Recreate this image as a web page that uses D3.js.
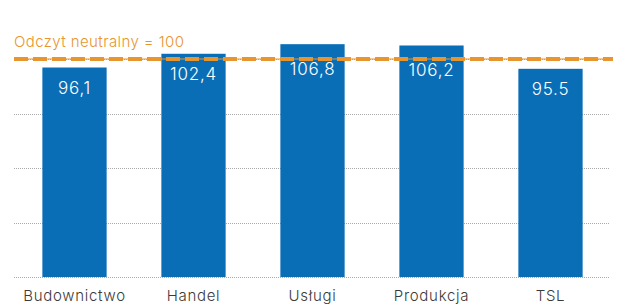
<!DOCTYPE html>
<html>
<head>
<meta charset="utf-8">
<script src="https://cdn.jsdelivr.net/npm/d3@7"></script>
<style>
  body { margin: 0; background: #fff; }
  svg text { font-family: Inter, Lato, sans-serif; font-weight: 300; }
</style>
</head>
<body>
<div id="chart"></div>
<script>
// data
const categories = ["Budownictwo", "Handel", "Usługi", "Produkcja", "TSL"];
const values = [96.1, 102.4, 106.8, 106.2, 95.5];
const valueLabels = ["96,1", "102,4", "106,8", "106,2", "95.5"];
const gridTicks = [0, 25, 50, 75, 100];
const neutral = 100;
const neutralLabel = "Odczyt neutralny = 100";

const width = 620, height = 304;

const svg = d3.select("#chart").append("svg")
  .attr("width", width)
  .attr("height", height);

const x = d3.scaleBand()
  .domain(categories)
  .range([15, 610])
  .paddingInner(0.46)
  .paddingOuter(0.23);

const y = d3.scaleLinear()
  .domain([0, 100])
  .range([277, 59]);

// dotted gridlines
svg.selectAll(".grid")
  .data(gridTicks)
  .enter().append("line")
  .attr("x1", 14).attr("x2", 610)
  .attr("y1", d => Math.round(y(d)) + 0.5)
  .attr("y2", d => Math.round(y(d)) + 0.5)
  .attr("stroke", "#aaa")
  .attr("stroke-width", 1)
  .attr("stroke-dasharray", "1,1");

const data = categories.map((c, i) => ({ cat: c, value: values[i], label: valueLabels[i] }));

svg.selectAll(".bar")
  .data(data)
  .enter().append("rect")
  .attr("x", d => x(d.cat))
  .attr("width", x.bandwidth())
  .attr("y", d => y(d.value))
  .attr("height", d => y(0) - y(d.value))
  .attr("fill", "#0A6EB6");

// neutral line: thin line under thick dashes
svg.append("line")
  .attr("x1", 14).attr("x2", 613)
  .attr("y1", y(neutral)).attr("y2", y(neutral))
  .attr("stroke", "#E8952F")
  .attr("stroke-width", 1.2);
svg.append("line")
  .attr("x1", 14).attr("x2", 613)
  .attr("y1", y(neutral)).attr("y2", y(neutral))
  .attr("stroke", "#E8952F")
  .attr("stroke-width", 4)
  .attr("stroke-dasharray", "14,5");

svg.append("text")
  .attr("x", 14).attr("y", 47)
  .attr("fill", "#E8952F")
  .style("font-size", "15px")
  .style("letter-spacing", "0.4px")
  .text(neutralLabel);

// labels on tall bars sit a bit lower, below the neutral line
svg.selectAll(".val")
  .data(data)
  .enter().append("text")
  .attr("x", d => x(d.cat) + x.bandwidth() / 2)
  .attr("y", d => y(d.value) + (d.value > 104 ? 31 : 26))
  .attr("text-anchor", "middle")
  .attr("fill", "#fff")
  .style("font-size", "17px")
  .style("letter-spacing", "0.8px")
  .text(d => d.label);

svg.selectAll(".cat")
  .data(categories)
  .enter().append("text")
  .attr("x", d => x(d) + x.bandwidth() / 2)
  .attr("y", 301)
  .attr("text-anchor", "middle")
  .attr("fill", "#3a3a3a")
  .style("font-size", "15px")
  .style("letter-spacing", "0.7px")
  .text(d => d);
</script>
</body>
</html>
